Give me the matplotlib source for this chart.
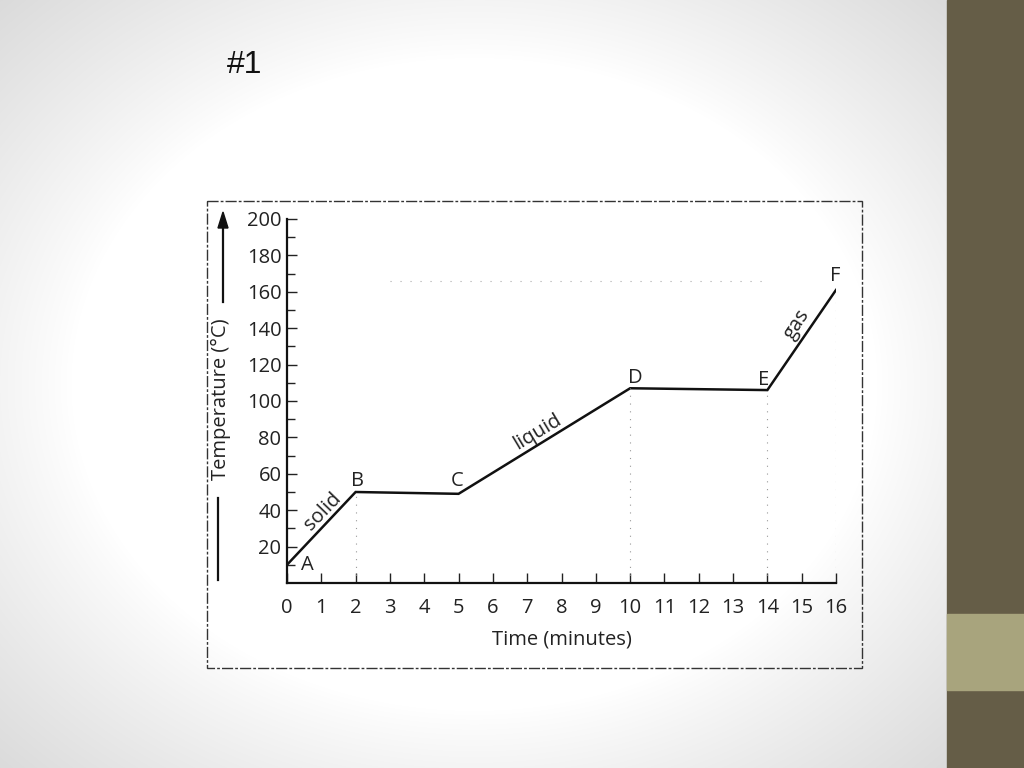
import numpy as np
import matplotlib
matplotlib.use("Agg")
import matplotlib.pyplot as plt
from matplotlib.patches import Rectangle, FancyArrow
from matplotlib.lines import Line2D

# ---- data ----
time_min = [0, 2, 5, 10, 14, 16]
temp_c = [10, 50, 49, 107, 106, 161]
point_labels = ["A", "B", "C", "D", "E", "F"]
x_ticks = list(range(0, 17))
y_ticks = [20, 40, 60, 80, 100, 120, 140, 160, 180, 200]
phase_labels = ["solid", "liquid", "gas"]

W, H = 1024, 768
fig = plt.figure(figsize=(W / 100, H / 100), dpi=100)

# ---- background vignette ----
bg = fig.add_axes([0, 0, 1, 1], zorder=-10)
yy, xx = np.mgrid[0:H, 0:W]
cx, cy = 474, 384
r = np.sqrt(((xx - cx) / 474.0) ** 2 + ((yy - cy) / 384.0) ** 2)
v = 1 - 0.15 * np.clip((r - 0.85) / 0.6, 0, 1) ** 0.9
img = np.dstack([v, v, v])
bg.imshow(img, extent=[0, W, H, 0], aspect="auto")
bg.set_xlim(0, W)
bg.set_ylim(H, 0)
bg.axis("off")
# side bar
bg.add_patch(Rectangle((947, 0), 77, 768, color="#655d47"))
bg.add_patch(Rectangle((947, 614), 77, 76, color="#a8a47d"))
# dashed outer frame of the scanned chart
bg.add_patch(Rectangle((207, 201), 655, 467, fill=False, ec="#333333",
                       lw=1.0, ls=(0, (8, 1.5, 2, 1.5))))
# title
bg.text(245, 65, "#1", fontsize=23, family=["Liberation Sans Narrow", "Liberation Sans"],
        ha="center", va="center", color="#111111")

# ---- main axes ----
font = "Open Sans"
fs = 14.5
ax = fig.add_axes([287 / W, 1 - 583 / H, (836 - 287) / W, (583 - 219) / H])
ax.set_facecolor("none")
ax.plot(time_min, temp_c, color="#111111", lw=1.8, solid_joinstyle="miter")
ax.set_xlim(0, 16)
ax.set_ylim(0, 200)
for s in ["top", "right"]:
    ax.spines[s].set_visible(False)
for s in ["left", "bottom"]:
    ax.spines[s].set_linewidth(1.6)
    ax.spines[s].set_color("#111111")
ax.set_xticks(x_ticks)
ax.set_xticklabels([str(t) for t in x_ticks], fontsize=fs, family=font, color="#222222")
ax.set_yticks(y_ticks)
ax.set_yticklabels([str(t) for t in y_ticks], fontsize=fs, family=font, color="#222222")
ax.set_yticks(np.arange(10, 200, 20), minor=True)
ax.tick_params(axis="both", which="both", direction="in", color="#222222")
ax.tick_params(axis="x", which="major", length=7, width=1.0, pad=11)
ax.tick_params(axis="y", which="major", length=7, width=1.0, pad=4)
ax.tick_params(axis="y", which="minor", length=6, width=1.0)
ax.set_xlabel("Time (minutes)", fontsize=fs, family=font, color="#222222", labelpad=8)

# faint dotted guide lines
for xi, yi in zip(time_min[1:], temp_c[1:]):
    if xi in (2, 10, 14, 16):
        ax.plot([xi, xi], [0, yi], color="#999999", lw=0.8, ls=(0, (1, 6)))
ax.plot([3, 14], [166, 166], color="#aaaaaa", lw=0.8, ls=(0, (1, 8)))

# point letters
offsets = {"A": (0.58, 9.9), "B": (2.06, 56), "C": (4.96, 56),
           "D": (10.14, 112.6), "E": (13.9, 111.5), "F": (15.99, 168.7)}
for lab in point_labels:
    x0, y0 = offsets[lab]
    ax.text(x0, y0, lab, fontsize=fs, family=font, ha="center", va="center", color="#222222")

# phase labels
ax.text(1.05, 39, phase_labels[0], rotation=46, fontsize=fs, family=font,
        ha="center", va="center", color="#222222", rotation_mode="anchor")
ax.text(7.29, 83, phase_labels[1], rotation=31, fontsize=fs, family=font,
        ha="center", va="center", color="#222222", rotation_mode="anchor")
ax.text(14.86, 142, phase_labels[2], rotation=57, fontsize=fs, family=font,
        ha="center", va="center", color="#222222", rotation_mode="anchor")

# ---- y label with arrow ----
fig.text(221 / W, 1 - 399 / H, "Temperature (°C)", rotation=90, fontsize=fs,
         family=font, ha="center", va="center", color="#222222")
fig.add_artist(Line2D([223 / W, 223 / W], [1 - 302 / H, 1 - 225 / H],
                      color="#111111", lw=1.6))
fig.add_artist(FancyArrow(223 / W, 1 - 230 / H, 0, 18 / H, width=0.0,
                          head_width=10 / W, head_length=16 / H,
                          length_includes_head=True, color="#111111",
                          transform=fig.transFigure))
fig.add_artist(Line2D([218 / W, 218 / W], [1 - 580 / H, 1 - 498 / H],
                      color="#111111", lw=1.6))

fig.savefig("out.png", dpi=100)
